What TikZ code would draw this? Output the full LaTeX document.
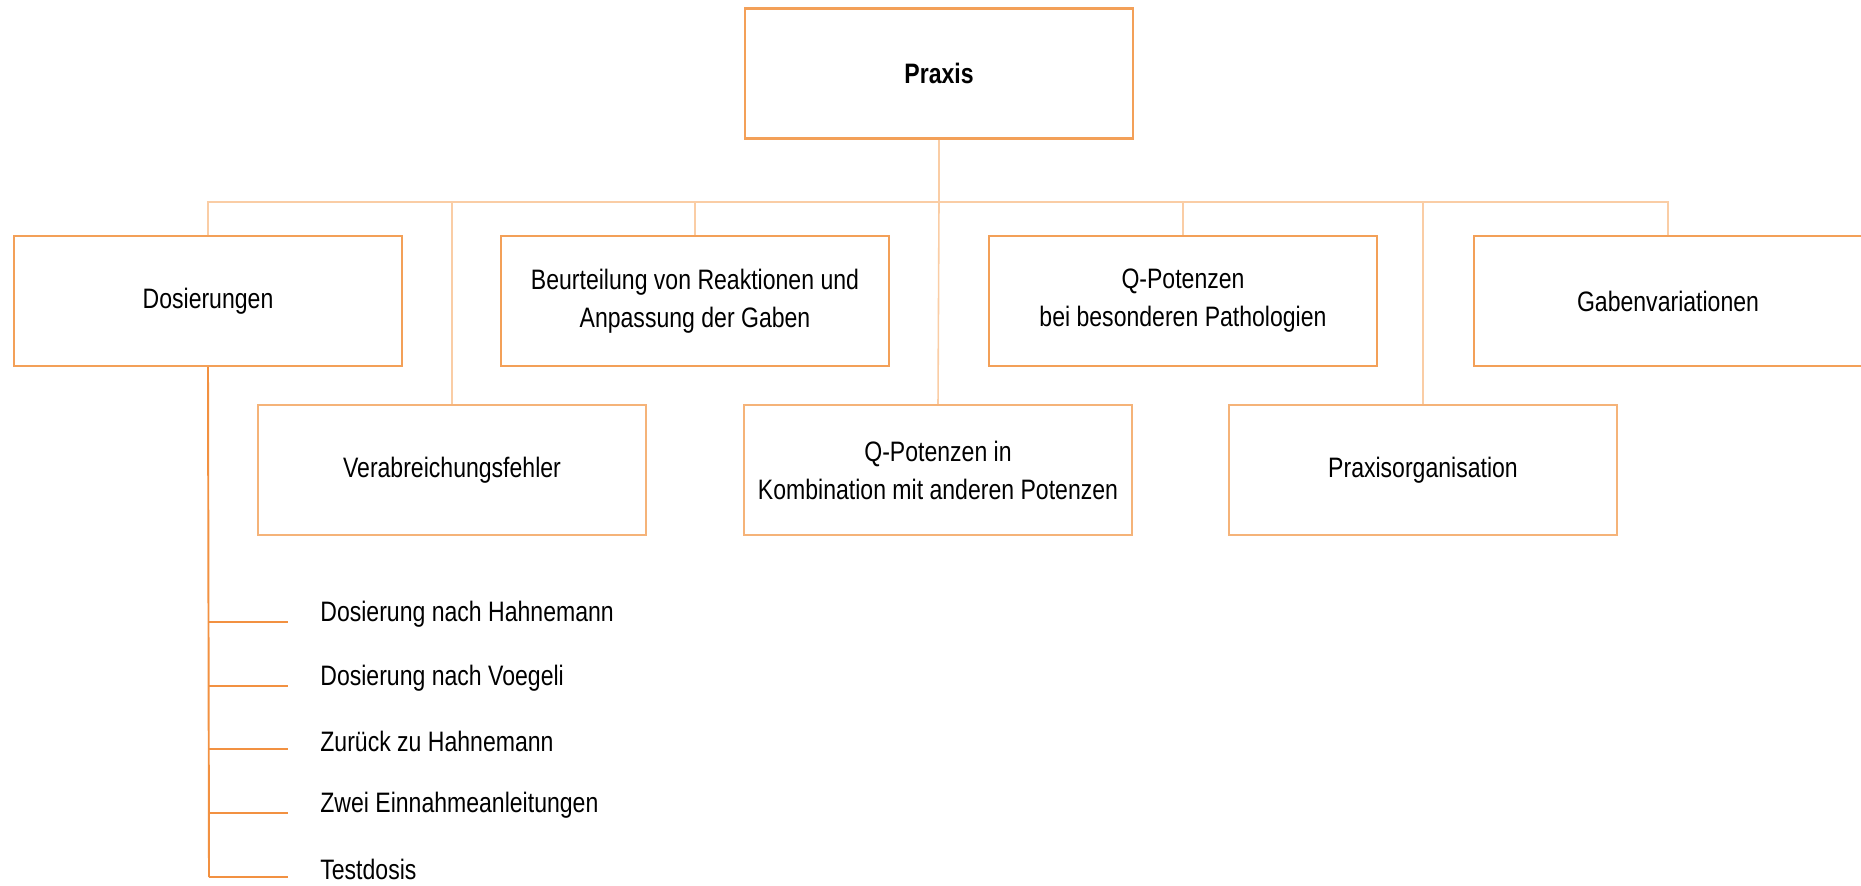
\documentclass[tikz,border=0pt]{standalone}
\usepackage{fontspec}
\setmainfont{Liberation Sans}[FakeStretch=0.82]
\usepackage{tikz}
\usetikzlibrary{positioning,calc}

\definecolor{boxorange}{RGB}{243,160,88}
\definecolor{busorange}{RGB}{250,205,165}
\definecolor{suborange}{RGB}{242,145,65}

\begin{document}
\begin{tikzpicture}[
                x=0.02cm, y=-0.02cm,
                font=\fontsize{16}{21.6}\selectfont,
                box/.style={
                    draw=boxorange,
                    line width=1.2pt,
                    fill=white,
                    minimum width=7.76cm,
                    minimum height=2.6cm,
                    align=center
                },
                lowbox/.style={box, draw=boxorange!80},
                bus/.style={draw=busorange, line width=0.9pt},
                sub/.style={draw=suborange, line width=1.1pt},
                item/.style={anchor=west, inner sep=0pt}
            ]
                \useasboundingbox (0,0) rectangle (1861,885);

                \node[box] (praxis) at (939,73.5) {\textbf{Praxis}};

                \node[box] (dos) at (208,301) {Dosierungen};
                \node[box] (beur) at (695,301) {Beurteilung von Reaktionen und\\Anpassung der Gaben};
                \node[box] (qpath) at (1183,301) {Q-Potenzen\\bei besonderen Pathologien};
                \node[box] (gaben) at (1668,301) {Gabenvariationen};

                \node[lowbox] (verab) at (452,470) {Verabreichungsfehler};
                \node[lowbox] (qkomb) at (938,470) {Q-Potenzen in\\Kombination mit anderen Potenzen};
                \node[lowbox] (porg) at (1423,470) {Praxisorganisation};

                \coordinate (bus) at (939,202);

                \draw[bus] (praxis.south) -- (bus);
                \draw[bus] (dos.north) |- (bus) -| (gaben.north);
                \draw[bus] (beur.north) |- (bus);
                \draw[bus] (qpath.north) |- (bus);
                \draw[bus] (verab.north) |- (bus);
                \draw[bus] (porg.north) |- (bus);
                \draw[bus] (bus) -- (qkomb.north);

                % Dosierungen: Unterpunkte
                \coordinate (dend) at (209,877);
                \draw[sub] (dos.south) -- (dend);
                \foreach \y/\name/\txt in {622/i1/Dosierung nach Hahnemann,
                                           686/i2/Dosierung nach Voegeli,
                                           749/i3/Zurück zu Hahnemann,
                                           813/i4/Zwei Einnahmeanleitungen,
                                           877/i5/Testdosis} {
                    \coordinate (t\name) at (209,\y);
                    \node[item] (\name) at (320,\y-8) {\txt};
                    \draw[sub] (t\name) -- ($(t\name)+(79,0)$);
                }
            \end{tikzpicture}
\end{document}
